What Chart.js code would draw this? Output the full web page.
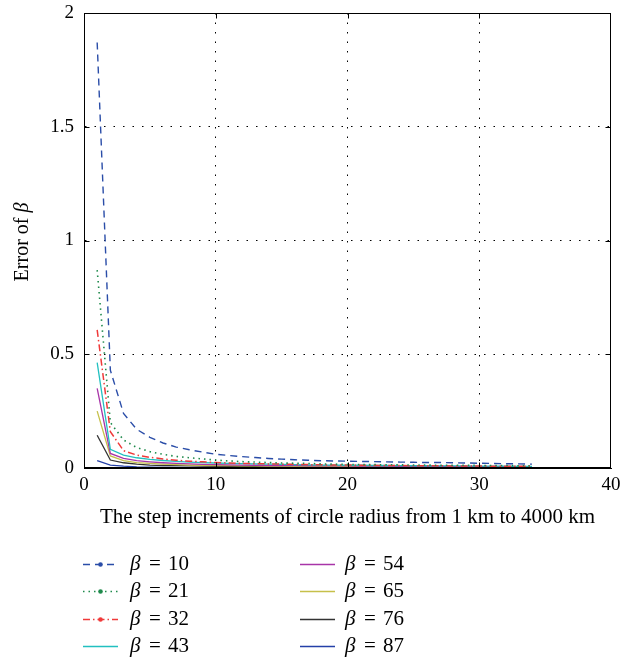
<!DOCTYPE html>
<html><head><meta charset="utf-8">
<script src="https://cdn.jsdelivr.net/npm/chart.js@4/dist/chart.umd.min.js"></script>
<style>html,body{margin:0;padding:0;background:#fff;}</style>
</head><body>
<canvas id="c" width="636" height="659"></canvas>
<script>
// ---- data ----
const steps = [1,2,3,4,5,6,7,8,9,10,11,12,13,14,15,16,17,18,19,20,21,22,23,24,25,26,27,28,29,30,31,32,33,34];
const beta10 = [1.87,0.43,0.24,0.17,0.135,0.11,0.092,0.08,0.07,0.06,0.055,0.05,0.046,0.042,0.039,0.036,0.034,0.032,0.031,0.03,0.029,0.028,0.027,0.026,0.025,0.024,0.024,0.023,0.022,0.021,0.02,0.019,0.018,0.017];
const beta21 = [0.87,0.2,0.123,0.09,0.072,0.06,0.051,0.045,0.04,0.035,0.031,0.028,0.026,0.024,0.022,0.021,0.02,0.018,0.017,0.016,0.015,0.015,0.014,0.014,0.013,0.013,0.012,0.012,0.012,0.011,0.011,0.011,0.01,0.01];
const beta32 = [0.607,0.16,0.076,0.057,0.047,0.04,0.034,0.03,0.027,0.024,0.022,0.02,0.019,0.018,0.017,0.016,0.015,0.014,0.013,0.013,0.012,0.012,0.011,0.011,0.01,0.01,0.01,0.009,0.009,0.009,0.008,0.008,0.008,0.008];
const beta43 = [0.463,0.082,0.057,0.045,0.038,0.033,0.029,0.026,0.024,0.022,0.02,0.019,0.018,0.017,0.016,0.015,0.014,0.013,0.013,0.012,0.012,0.011,0.011,0.01,0.01,0.01,0.009,0.009,0.009,0.008,0.008,0.008,0.007,0.007];
const beta54 = [0.35,0.064,0.042,0.032,0.027,0.023,0.02,0.018,0.016,0.015,0.014,0.013,0.012,0.011,0.011,0.01,0.01,0.009,0.009,0.009,0.008,0.008,0.008,0.007,0.007,0.007,0.007,0.006,0.006,0.006,0.006,0.006,0.005,0.005];
const beta65 = [0.25,0.053,0.032,0.024,0.02,0.017,0.015,0.013,0.012,0.011,0.01,0.009,0.009,0.008,0.008,0.007,0.007,0.007,0.006,0.006,0.006,0.006,0.005,0.005,0.005,0.005,0.005,0.004,0.004,0.004,0.004,0.004,0.004,0.004];
const beta76 = [0.144,0.035,0.023,0.017,0.013,0.011,0.01,0.009,0.008,0.007,0.007,0.006,0.006,0.005,0.005,0.005,0.005,0.004,0.004,0.004,0.004,0.004,0.003,0.003,0.003,0.003,0.003,0.003,0.003,0.003,0.003,0.003,0.003,0.003];
const beta87 = [0.032,0.013,0.008,0.005,0.004,0.003,0.003,0.002,0.002,0.002,0.002,0.002,0.002,0.002,0.002,0.002,0.002,0.002,0.002,0.002,0.002,0.002,0.002,0.002,0.002,0.002,0.002,0.002,0.002,0.002,0.002,0.002,0.002,0.002];
const betaValues = ['10','21','32','43','54','65','76','87'];
const xTickValues = [0,10,20,30,40];
const yTickValues = [0,0.5,1,1.5,2];
const xTitle = 'The step increments of circle radius from 1 km to 4000 km';
const yTitleMain = 'Error of ';
const yTitleSym = 'β';

// ---- styles ----
const allSeries = [beta10,beta21,beta32,beta43,beta54,beta65,beta76,beta87];
const colors = ['#2a4da8','#1f8a4c','#f03a3a','#22c0c0','#a834a8','#c6c04a','#333333','#2440a8'];
const dashes = [[7,5],[1.5,4],[7,3,1.5,3],[],[],[],[],[]];
const widths = [1.4,1.6,1.5,1.3,1.3,1.3,1.3,1.3];
const markers = [true,true,true,false,false,false,false,false];
const SERIF = "'Liberation Serif', 'Times New Roman', serif";

const datasets = allSeries.map((arr,i)=>({
  label: 'β = ' + betaValues[i],
  data: steps.map((s,j)=>({x:s, y:arr[j]})),
  borderColor: colors[i],
  backgroundColor: colors[i],
  borderDash: dashes[i],
  borderWidth: widths[i],
  pointRadius: 0,
  tension: 0,
  fill: false
}));

const decor = {
  id: 'decor',
  afterDraw(chart){
    const {ctx, chartArea:a, scales:{x,y}} = chart;
    ctx.save();
    ctx.strokeStyle = '#000'; ctx.lineWidth = 1; ctx.setLineDash([]);
    const L = Math.round(a.left)+0.5, R = Math.round(a.right)-0.5, T = Math.round(a.top)+0.5, B = Math.round(a.bottom)-0.5;
    ctx.strokeRect(L, T, R-L, B-T);
    ctx.beginPath();
    xTickValues.slice(1,-1).forEach(v=>{ const px = Math.round(x.getPixelForValue(v))+0.5; ctx.moveTo(px,B); ctx.lineTo(px,B-5); ctx.moveTo(px,T); ctx.lineTo(px,T+5); });
    yTickValues.slice(1,-1).forEach(v=>{ const py = Math.round(y.getPixelForValue(v))+0.5; ctx.moveTo(L,py); ctx.lineTo(L+5,py); ctx.moveTo(R,py); ctx.lineTo(R-5,py); });
    ctx.stroke();
    // y title
    ctx.fillStyle = '#000';
    ctx.textBaseline = 'middle';
    ctx.font = '20px ' + SERIF;
    const w1 = ctx.measureText(yTitleMain).width;
    ctx.font = 'italic 20px ' + SERIF;
    const w2 = ctx.measureText(yTitleSym).width;
    ctx.translate(23, 242); ctx.rotate(-Math.PI/2);
    let sx = -(w1+w2)/2;
    ctx.font = '20px ' + SERIF; ctx.textAlign = 'left';
    ctx.fillText(yTitleMain, sx, 0);
    ctx.font = 'italic 20px ' + SERIF;
    ctx.fillText(yTitleSym, sx + w1, 0);
    ctx.restore();
    // legend
    ctx.save();
    chart.data.datasets.forEach((ds,i)=>{
      const col = i < 4 ? 0 : 1, row = i % 4;
      const x0 = col ? 300 : 83, x1 = x0 + 35, tx = col ? 345 : 130;
      const yy = Math.round(564 + row*27.3) + 0.5;
      ctx.strokeStyle = ds.borderColor; ctx.lineWidth = ds.borderWidth;
      ctx.setLineDash(ds.borderDash);
      ctx.beginPath(); ctx.moveTo(x0, yy); ctx.lineTo(x1, yy); ctx.stroke();
      ctx.setLineDash([]);
      if (markers[i]) { ctx.fillStyle = ds.borderColor; ctx.beginPath(); ctx.arc((x0+x1)/2, yy, 2.3, 0, Math.PI*2); ctx.fill(); }
      ctx.fillStyle = '#000'; ctx.textBaseline = 'middle'; ctx.textAlign = 'left';
      ctx.font = 'italic 21px ' + SERIF; ctx.fillText(yTitleSym, tx, yy);
      ctx.font = '21px ' + SERIF; ctx.fillText('=', tx + 19, yy); ctx.fillText(betaValues[i], tx + 38, yy);
    });
    ctx.restore();
  }
};

const gridColor = (edges) => (c) => (edges.includes(c.tick && c.tick.value) ? 'rgba(0,0,0,0)' : '#000');

new Chart(document.getElementById('c'), {
  type: 'line',
  data: { datasets },
  options: {
    responsive: false,
    animation: false,
    devicePixelRatio: 1,
    layout: { padding: { left: 0, top: 13, right: 25, bottom: 129 } },
    plugins: { legend: { display: false }, tooltip: { enabled: false } },
    scales: {
      x: {
        type: 'linear', min: 0, max: 40,
        afterFit: s => { s.height = 62; s.paddingLeft = 0; s.paddingRight = 0; },
        afterBuildTicks: s => { s.ticks = xTickValues.map(v=>({value:v})); },
        ticks: { color: '#000', font: { family: SERIF, size: 19 }, padding: 6, maxRotation: 0, callback: v => String(v) },
        grid: { color: gridColor([0,40]), lineWidth: 1, drawTicks: false },
        border: { display: true, color: '#000', width: 1, dash: [1.5,8] },
        title: { display: true, text: xTitle, color: '#000', font: { family: SERIF, size: 21 }, padding: 0 }
      },
      y: {
        type: 'linear', min: 0, max: 2,
        afterFit: s => { s.width = 84; s.paddingTop = 0; s.paddingBottom = 0; },
        afterBuildTicks: s => { s.ticks = yTickValues.map(v=>({value:v})); },
        ticks: { color: '#000', font: { family: SERIF, size: 19 }, padding: 10, callback: v => String(v) },
        grid: { color: gridColor([0,2]), lineWidth: 1, drawTicks: false },
        border: { display: true, color: '#000', width: 1, dash: [1.5,8] }
      }
    }
  },
  plugins: [decor]
});
</script>
</body></html>
